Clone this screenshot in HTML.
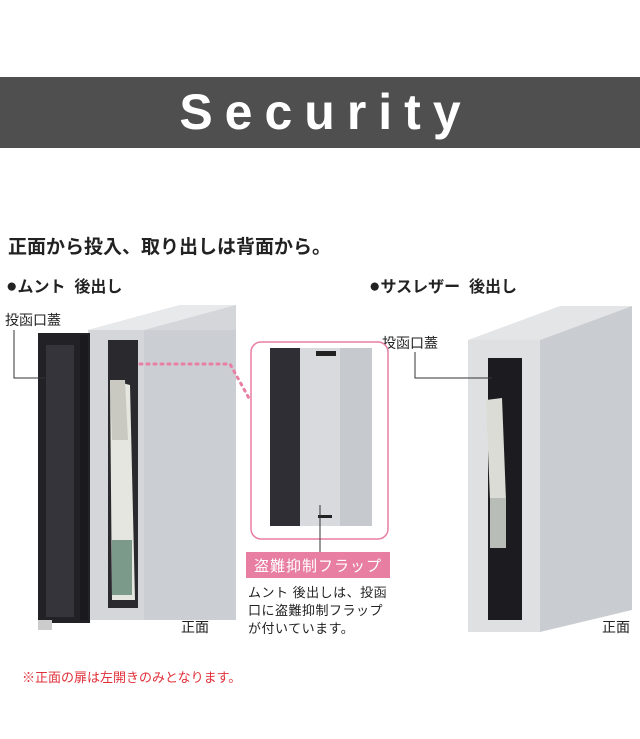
<!DOCTYPE html>
<html><head><meta charset="utf-8"><style>
body{margin:0;width:640px;height:739px;background:#fff;overflow:hidden;font-family:"Liberation Sans","Noto Sans CJK JP",sans-serif;position:relative}
.t{position:absolute;white-space:nowrap;color:#222}
.b{font-size:19px}
</style></head><body>
<div style="position:absolute;left:0;top:77px;width:640px;height:71px;background:#4f4f4f"></div>
<div class="t" style="left:0;top:80px;width:652px;text-align:center;color:#fff;font-size:50px;font-weight:bold;letter-spacing:12px;line-height:64px">Security</div>
<div class="t" style="left:8px;top:232px;font-size:19px;font-weight:bold">正面から投入、取り出しは背面から。</div>
<div class="t" style="left:6px;top:273px;font-size:16px;font-weight:bold"><span class="b">●</span>ムント&nbsp; 後出し</div>
<div class="t" style="left:369px;top:273px;font-size:16px;font-weight:bold"><span class="b">●</span>サスレザー&nbsp; 後出し</div>
<div class="t" style="left:5px;top:310px;font-size:14px">投函口蓋</div>
<div class="t" style="left:382px;top:333px;font-size:14px">投函口蓋</div>
<div class="t" style="left:181px;top:617px;font-size:14px">正面</div>
<div class="t" style="left:602px;top:617px;font-size:14px">正面</div>
<div class="t" style="left:22px;top:667px;font-size:13px;color:#e0303a">※正面の扉は左開きのみとなります。</div>
<div style="position:absolute;left:246px;top:552px;width:144px;height:26px;background:#e87fa3"></div>
<div class="t" style="left:246px;top:555px;width:144px;text-align:center;color:#fff;font-size:15px;letter-spacing:1px">盗難抑制フラップ</div>
<div class="t" style="left:248px;top:584px;font-size:13px;line-height:18px;letter-spacing:.5px">ムント 後出しは、投函<br>口に盗難抑制フラップ<br>が付いています。</div>
<svg width="640" height="739" style="position:absolute;left:0;top:0">
<polygon points="88,330 180,305 236,305 236,620 88,620" fill="#d4d6da"/>
<polygon points="88,330 180,305 236,305 144,330" fill="#e8e9eb"/>
<rect x="144" y="330" width="92" height="290" fill="#cbced2"/>
<rect x="108" y="340" width="30" height="268" fill="#2a2a2e"/>
<polygon points="110,380 130,385 135,600 112,600" fill="#e6e6e0"/>
<polygon points="110,380 125,380 128,440 112,440" fill="#c9c9c2"/>
<rect x="112" y="540" width="20" height="55" fill="#7c9a8a"/>
<rect x="38" y="333" width="52" height="290" fill="#222126"/>
<rect x="46" y="345" width="28" height="272" fill="#35343a"/>
<rect x="80" y="335" width="8" height="285" fill="#1a1a1e"/>
<rect x="38" y="620" width="14" height="10" fill="#ccc"/>
<polyline points="14,330 14,378 45,378" fill="none" stroke="#333" stroke-width="1"/>
<path d="M140,364 L230,364 L250,400" fill="none" stroke="#e87fa3" stroke-width="3" stroke-dasharray="2,5" stroke-linecap="round"/>
<rect x="251" y="342" width="137" height="197" rx="10" fill="#fff" stroke="#e87fa3" stroke-width="1.5"/>
<rect x="270" y="348" width="36" height="178" fill="#2e2e34"/>
<rect x="300" y="348" width="70" height="178" fill="#d8dadd"/>
<rect x="340" y="348" width="32" height="178" fill="#c6c9ce"/>
<rect x="316" y="351" width="20" height="5" fill="#222"/>
<rect x="318" y="515" width="14" height="3" fill="#222"/>
<line x1="320" y1="505" x2="320" y2="552" stroke="#333"/>
<polygon points="468,340 560,306 632,306 540,340" fill="#e4e5e7"/>
<polygon points="540,340 632,306 632,610 540,632" fill="#c9ccd0"/>
<rect x="468" y="340" width="72" height="292" fill="#dfe0e2"/>
<rect x="488" y="358" width="34" height="262" fill="#1c1c20"/>
<polygon points="486,400 502,398 506,500 490,500" fill="#dcdcd6"/>
<rect x="490" y="498" width="16" height="50" fill="#b8bdb8"/>
<polyline points="415,352 415,378 492,378" fill="none" stroke="#333"/>
</svg>
</body></html>
